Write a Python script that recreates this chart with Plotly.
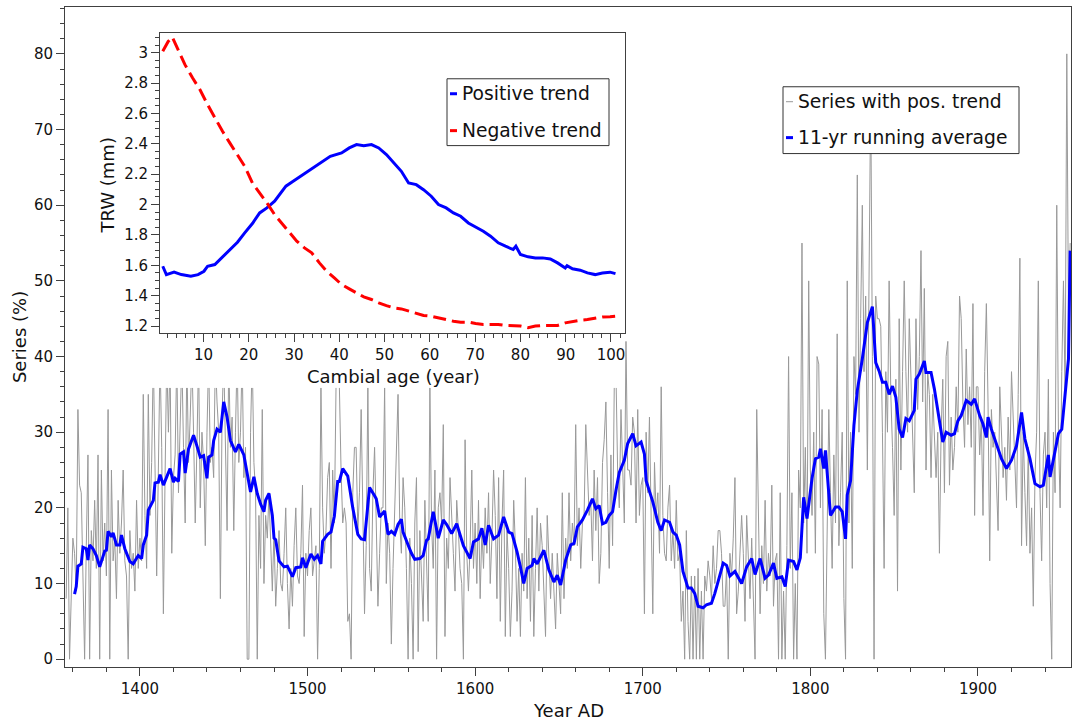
import plotly.graph_objects as go

W, H = 1072, 722

# ---------------- data ----------------
first_year = 1356
series_pos = [
    8, 20, 0, 10, 16, 14, 9, 33, 23, 22,
    12, 0, 15, 27, 0, 17, 13, 21, 12, 27,
    0, 25, 13, 18, 11, 33, 0, 25, 13, 16,
    8, 21, 14, 18, 25, 13, 11, 0, 17, 12,
    14, 9, 21, 12, 16, 13, 35, 19, 12, 35,
    19, 26, 40, 22, 11, 25, 40, 28, 6, 24,
    40, 30, 40, 14, 24, 27, 40, 22, 30, 40,
    28, 18, 40, 26, 32, 40, 30, 18, 28, 40,
    20, 30, 26, 15, 30, 40, 26, 28, 24, 40,
    34, 30, 8, 32, 40, 30, 17, 40, 28, 32,
    17, 30, 40, 26, 30, 40, 24, 28, 0, 0,
    30, 40, 26, 22, 0, 19, 12, 33, 10, 19,
    16, 22, 14, 9, 17, 7, 12, 17, 10, 9,
    14, 20, 10, 4, 12, 7, 15, 20, 11, 10,
    14, 23, 3, 14, 11, 17, 20, 11, 13, 15,
    0, 12, 36, 20, 14, 17, 24, 26, 12, 25,
    18, 36, 38, 36, 25, 18, 20, 18, 5, 6,
    0, 22, 28, 28, 17, 22, 33, 17, 6, 15,
    36, 12, 9, 22, 28, 18, 7, 14, 20, 20,
    36, 10, 18, 14, 2, 12, 20, 25, 35, 18,
    14, 24, 20, 12, 0, 16, 10, 0, 18, 24,
    1, 17, 12, 5, 21, 14, 5, 36, 18, 12,
    25, 0, 20, 22, 18, 31, 3, 16, 12, 24,
    18, 14, 9, 21, 17, 12, 10, 0, 29, 14,
    9, 15, 25, 12, 18, 10, 21, 8, 17, 12,
    20, 14, 22, 10, 16, 25, 19, 8, 24, 5,
    18, 25, 3, 17, 12, 3, 9, 21, 15, 5,
    12, 3, 14, 9, 24, 8, 16, 5, 19, 3,
    12, 20, 9, 18, 15, 10, 3, 19, 12, 8,
    14, 8, 4, 14, 9, 6, 22, 8, 16, 12,
    22, 13, 18, 15, 31, 15, 20, 12, 18, 19,
    31, 26, 19, 21, 13, 25, 17, 24, 10, 14,
    26, 29, 34, 22, 12, 27, 15, 36, 38, 25,
    20, 33, 26, 18, 42, 25, 25, 23, 32, 30,
    18, 33, 19, 23, 24, 6, 30, 22, 32, 17,
    6, 26, 19, 22, 14, 36, 19, 14, 13, 20,
    23, 13, 17, 12, 21, 13, 14, 5, 9, 0,
    17, 5, 0, 11, 0, 11, 0, 12, 0, 9,
    0, 11, 9, 13, 11, 8, 15, 10, 12, 17,
    17, 14, 7, 7, 12, 0, 14, 11, 16, 24,
    6, 9, 14, 19, 14, 5, 19, 12, 8, 16,
    9, 0, 33, 18, 6, 15, 10, 21, 9, 14,
    11, 23, 7, 13, 14, 0, 22, 0, 9, 0,
    15, 40, 12, 22, 0, 10, 0, 25, 20, 55,
    18, 28, 14, 50, 25, 19, 30, 14, 40, 39,
    20, 33, 6, 0, 21, 33, 22, 12, 27, 18,
    43, 15, 22, 30, 8, 0, 50, 18, 30, 12,
    40, 35, 64, 30, 45, 60, 38, 48, 25, 52,
    75, 40, 0, 48, 45, 45, 44, 30, 12, 38,
    30, 50, 35, 28, 19, 37, 9, 45, 25, 38,
    50, 38, 30, 45, 38, 30, 22, 45, 33, 40,
    54, 34, 49, 25, 38, 35, 24, 35, 29, 24,
    30, 14, 30, 37, 22, 40, 42, 23, 32, 25,
    28, 36, 30, 48, 45, 34, 28, 41, 31, 36,
    28, 47, 19, 36, 36, 27, 32, 19, 38, 47,
    34, 13, 33, 28, 30, 22, 17, 36, 29, 24,
    28, 21, 32, 25, 38, 31, 27, 20, 35, 53,
    15, 30, 22, 15, 28, 14, 20, 7, 24, 30,
    50, 22, 13, 27, 30, 20, 37, 10, 0, 30,
    22, 60, 30, 20, 38, 50, 35, 80, 45, 55,
]
series_years = list(range(first_year, first_year + len(series_pos)))

avg_years = [
    1361, 1362, 1363, 1365, 1366, 1368, 1369, 1370, 1372, 1374, 1376, 1377, 1379, 1380,
    1381, 1383, 1384, 1386, 1388, 1389, 1391, 1394, 1396, 1399, 1401, 1402, 1404, 1405,
    1408, 1409, 1411, 1412, 1414, 1416, 1418, 1420, 1421, 1423, 1424, 1426, 1427, 1429,
    1432, 1434, 1436, 1438, 1440, 1441, 1443, 1444, 1446, 1448, 1450, 1452, 1454, 1457,
    1459, 1462, 1464, 1466, 1468, 1470, 1472, 1474, 1475, 1477, 1479, 1480, 1481, 1483,
    1486, 1488, 1491, 1493, 1496, 1497, 1499, 1502, 1504, 1506, 1508, 1509, 1512, 1514,
    1516, 1518, 1519, 1521, 1524, 1527, 1530, 1532, 1534, 1537, 1540, 1541, 1543, 1546,
    1548, 1550, 1552, 1554, 1556, 1557, 1560, 1562, 1564, 1567, 1569, 1571, 1572, 1575,
    1578, 1581, 1583, 1586, 1589, 1592, 1593, 1597, 1599, 1602, 1604, 1606, 1608, 1611,
    1614, 1617, 1620, 1622, 1625, 1627, 1629, 1631, 1634, 1635, 1637, 1641, 1644, 1647,
    1649, 1651, 1654, 1657, 1659, 1661, 1664, 1667, 1670, 1672, 1674, 1676, 1678, 1680,
    1682, 1684, 1686, 1689, 1691, 1694, 1696, 1699, 1701, 1702, 1706, 1709, 1711, 1713,
    1716, 1718, 1720, 1722, 1724, 1727, 1729, 1731, 1733, 1736, 1738, 1741, 1743, 1748,
    1750, 1752, 1755, 1759, 1762, 1765, 1767, 1770, 1773, 1775, 1778, 1780, 1783, 1785,
    1787, 1790, 1792, 1794, 1796, 1798, 1801, 1803, 1805, 1806, 1808, 1809, 1812, 1815,
    1817, 1819, 1821, 1822, 1824, 1826, 1828, 1831, 1834, 1837, 1839, 1841, 1843, 1845,
    1847, 1849, 1851, 1853, 1855, 1857, 1859, 1862, 1863, 1865, 1868, 1869, 1872, 1874,
    1877, 1879, 1881, 1884, 1886, 1888, 1890, 1893, 1896, 1898, 1901, 1903, 1905, 1906,
    1908, 1910, 1912, 1914, 1917, 1920, 1923, 1926, 1928, 1931, 1934, 1937, 1939, 1942,
    1943, 1945, 1948, 1950, 1952, 1954, 1955,
]
avg_vals = [
    8.6, 9.6, 12.3, 12.6, 14.8, 14.6, 13.1, 15.1, 14.6, 13.7, 12.2, 12.9, 14.3, 14.4,
    16.9, 16.2, 16.7, 15.1, 15.1, 16.4, 14.6, 12.9, 12.6, 13.7, 13.3, 15.1, 16.4, 19.7,
    21.0, 23.3, 23.4, 24.4, 23.0, 24.1, 25.2, 23.4, 23.9, 23.5, 27.1, 27.4, 24.6, 27.8,
    29.6, 28.2, 26.7, 26.9, 23.9, 26.7, 27.0, 28.9, 30.4, 30.0, 34.0, 32.0, 28.9, 27.4,
    28.4, 27.0, 24.3, 22.1, 24.1, 21.9, 20.5, 19.5, 21.0, 21.9, 19.0, 16.0, 15.8, 13.0,
    12.2, 12.3, 10.9, 12.1, 12.2, 13.4, 12.1, 13.9, 13.2, 13.7, 12.6, 15.6, 16.5, 16.8,
    18.9, 23.5, 23.5, 25.2, 24.2, 20.0, 16.5, 15.9, 15.8, 22.7, 21.6, 21.2, 18.8, 19.6,
    16.5, 16.9, 16.5, 17.8, 18.5, 16.8, 15.1, 14.0, 13.2, 13.3, 13.7, 15.7, 15.9, 19.5,
    16.0, 18.4, 17.8, 16.6, 17.9, 15.7, 15.0, 13.3, 15.5, 15.9, 17.3, 15.1, 17.7, 15.9,
    16.4, 18.8, 16.8, 16.6, 14.2, 12.2, 10.0, 12.0, 12.4, 13.3, 12.6, 14.4, 11.8, 10.2,
    11.1, 9.8, 13.1, 15.1, 15.3, 17.5, 18.4, 19.7, 21.2, 19.9, 20.3, 17.9, 18.1, 19.0,
    19.5, 22.3, 24.7, 26.3, 28.5, 29.8, 28.2, 28.7, 27.1, 23.6, 20.8, 18.1, 17.0, 18.4,
    18.1, 16.8, 16.4, 15.1, 11.6, 9.4, 9.4, 8.7, 7.0, 6.8, 7.2, 7.4, 8.7, 12.7,
    12.4, 11.0, 11.6, 10.0, 12.2, 13.3, 11.2, 13.3, 10.7, 11.1, 12.7, 10.7, 10.9, 9.6,
    13.1, 12.9, 11.8, 13.4, 21.4, 18.6, 23.9, 26.5, 26.7, 27.8, 25.2, 27.6, 19.0, 20.1,
    20.1, 19.5, 15.9, 21.7, 23.6, 30.9, 35.5, 39.7, 44.5, 46.6, 39.2, 38.1, 36.6, 36.6,
    35.0, 36.1, 34.6, 30.4, 29.3, 31.8, 31.5, 32.9, 37.0, 37.7, 39.4, 37.9, 37.9, 35.7,
    31.3, 28.7, 30.0, 29.6, 29.8, 31.5, 32.2, 34.2, 33.7, 34.4, 32.2, 31.1, 29.3, 32.0,
    30.4, 29.1, 28.0, 26.5, 25.2, 26.3, 28.2, 32.6, 29.1, 26.5, 23.2, 22.8, 23.0, 27.0,
    24.1, 26.3, 29.8, 30.4, 35.3, 39.7, 54.0,
]

pos_age = [1.0, 1.8, 3.5, 5.1, 7.2, 8.8, 10.1, 10.9, 12.5, 14.2, 15.8, 17.5, 19.1, 20.8,
           22.4, 24.0, 25.7, 26.9, 28.2, 29.8, 31.5, 33.1, 34.7, 36.4, 38.0, 40.5, 42.2,
           43.8, 45.4, 47.1, 48.7, 50.4, 52.0, 53.7, 55.3, 57.0, 58.6, 60.3, 61.9, 63.6,
           65.2, 66.8, 68.5, 70.1, 71.8, 73.4, 75.1, 76.7, 78.4, 79.0, 80.0, 81.7, 83.3,
           84.9, 86.6, 88.2, 89.9, 90.3, 91.5, 93.2, 94.8, 96.5, 98.1, 99.8, 101.0]
pos_trw = [1.594, 1.539, 1.555, 1.539, 1.528, 1.539, 1.561, 1.594, 1.605, 1.656, 1.704,
           1.752, 1.814, 1.875, 1.945, 1.978, 2.022, 2.066, 2.121, 2.153, 2.186, 2.219,
           2.252, 2.285, 2.318, 2.340, 2.373, 2.395, 2.388, 2.395, 2.373, 2.329, 2.274,
           2.219, 2.142, 2.131, 2.098, 2.055, 2.000, 1.978, 1.945, 1.923, 1.879, 1.853,
           1.824, 1.792, 1.748, 1.726, 1.704, 1.726, 1.671, 1.656, 1.649, 1.649, 1.642,
           1.616, 1.583, 1.598, 1.577, 1.568, 1.550, 1.539, 1.550, 1.555, 1.545]

neg_age = [1.0, 2.2, 3.1, 4.3, 5.9, 7.6, 9.2, 10.9, 12.5, 14.2, 15.8, 17.5, 19.1, 20.8,
           22.4, 24.0, 25.7, 27.3, 29.0, 30.6, 32.3, 33.9, 35.6, 37.2, 38.9, 40.5, 42.2,
           43.8, 45.4, 47.1, 48.7, 50.4, 52.0, 53.7, 55.3, 57.0, 58.6, 60.3, 61.9, 63.6,
           65.2, 66.8, 68.5, 70.1, 71.8, 73.4, 75.1, 76.7, 78.4, 80.0, 81.7, 83.3, 84.9,
           86.6, 88.2, 89.9, 91.5, 93.2, 94.8, 96.5, 98.1, 99.8, 101.0]
neg_trw = [3.009, 3.074, 3.103, 3.020, 2.921, 2.833, 2.757, 2.658, 2.570, 2.482, 2.406,
           2.329, 2.252, 2.142, 2.077, 2.011, 1.934, 1.879, 1.814, 1.759, 1.715, 1.682,
           1.616, 1.561, 1.517, 1.474, 1.445, 1.419, 1.392, 1.375, 1.353, 1.335, 1.320,
           1.313, 1.298, 1.287, 1.270, 1.265, 1.254, 1.243, 1.232, 1.226, 1.226, 1.217,
           1.211, 1.211, 1.211, 1.204, 1.204, 1.200, 1.189, 1.200, 1.204, 1.204, 1.204,
           1.221, 1.232, 1.239, 1.243, 1.254, 1.260, 1.262, 1.265]

main_legend = ["Series with pos. trend", "11-yr running average"]
inset_legend = ["Positive trend", "Negative trend"]

# ---------------- styling ----------------
FONT = "DejaVu Sans"
TXT = "#111111"
AX = "#404040"
GRAY = "#999999"
BLUE = "#0000ff"
RED = "#ff0000"


def px(x):
    return x / W


def py(y):
    return 1 - y / H


fig = go.Figure()

fig.add_trace(go.Scatter(x=series_years, y=series_pos, mode="lines",
                         line=dict(color=GRAY, width=1), name=main_legend[0],
                         showlegend=False, xaxis="x", yaxis="y"))
fig.add_trace(go.Scatter(x=avg_years, y=avg_vals, mode="lines",
                         line=dict(color=BLUE, width=3), name=main_legend[1],
                         showlegend=False, xaxis="x", yaxis="y"))
# empty trace creating the white blocker subplot behind the inset
fig.add_trace(go.Scatter(x=[], y=[], xaxis="x2", yaxis="y2", showlegend=False,
                         hoverinfo="skip"))
fig.add_trace(go.Scatter(x=pos_age, y=pos_trw, mode="lines",
                         line=dict(color=BLUE, width=3), name=inset_legend[0],
                         showlegend=False, xaxis="x3", yaxis="y3"))
fig.add_trace(go.Scatter(x=neg_age, y=neg_trw, mode="lines",
                         line=dict(color=RED, width=3, dash="13px,6px"),
                         name=inset_legend[1], showlegend=False,
                         xaxis="x3", yaxis="y3"))

axis_common = dict(showline=True, linecolor=AX, linewidth=1, mirror=True,
                   ticks="outside", tickcolor=AX, ticklen=8, tickwidth=1,
                   showgrid=False, zeroline=False,
                   tickfont=dict(family=FONT, size=15, color=TXT))

fig.update_layout(
    width=W, height=H,
    margin=dict(l=0, r=0, t=0, b=0),
    paper_bgcolor="white", plot_bgcolor="white",
    showlegend=False,
    xaxis=dict(domain=[px(65), px(1071)], range=[1355.3, 1955.5], anchor="y",
               tick0=1400, dtick=100,
               minor=dict(dtick=20, tick0=1400, ticks="outside", ticklen=4,
                          tickcolor=AX),
               **axis_common),
    yaxis=dict(domain=[py(669), py(7)], range=[-1.05, 86.2], anchor="x",
               tick0=0, dtick=10,
               minor=dict(dtick=2, tick0=0, ticks="outside", ticklen=4,
                          tickcolor=AX),
               **axis_common),
    xaxis2=dict(domain=[px(92), px(622)], range=[0, 1], anchor="y2",
                visible=False, fixedrange=True),
    yaxis2=dict(domain=[py(389), py(24)], range=[0, 1], anchor="x2",
                visible=False, fixedrange=True),
    xaxis3=dict(domain=[px(160), px(625)], range=[0.39, 103.1], anchor="y3",
                tick0=0, dtick=10,
                minor=dict(dtick=2, tick0=0, ticks="outside", ticklen=4,
                           tickcolor=AX),
                **axis_common),
    yaxis3=dict(domain=[py(334), py(33)], range=[1.154, 3.13], anchor="x3",
                tick0=1.2, dtick=0.2,
                minor=dict(dtick=0.05, tick0=1.2, ticks="outside", ticklen=4,
                           tickcolor=AX),
                **axis_common),
)

title_font = dict(family=FONT, size=18, color=TXT)
ann = [
    dict(text="Year AD", x=px(568), y=py(712)),
    dict(text="Series (%)", x=px(19), y=py(338), textangle=-90),
    dict(text="TRW (mm)", x=px(107), y=py(186), textangle=-90),
    dict(text="Cambial age (year)", x=px(393), y=py(378)),
]
for a in ann:
    fig.add_annotation(xref="paper", yref="paper", showarrow=False,
                       xanchor="center", yanchor="middle", font=title_font, **a)

# legend boxes (drawn manually to match the compact glyphs)
shapes = []


def legend_box(x0, y0, x1, y1, rows):
    shapes.append(dict(type="rect", xref="paper", yref="paper",
                       x0=px(x0), x1=px(x1), y0=py(y1), y1=py(y0),
                       fillcolor="white", line=dict(color="#333333", width=1),
                       layer="above"))
    for (label, color, width, ycen) in rows:
        shapes.append(dict(type="line", xref="paper", yref="paper",
                           x0=px(x0 + 3), x1=px(x0 + 10), y0=py(ycen), y1=py(ycen),
                           line=dict(color=color, width=width), layer="above"))
        fig.add_annotation(xref="paper", yref="paper", showarrow=False,
                           xanchor="left", yanchor="middle",
                           x=px(x0 + 13), y=py(ycen), text=label,
                           font=dict(family=FONT, size=18.7, color=TXT))


legend_box(783, 87, 1019, 154, [(main_legend[0], GRAY, 1, 102),
                                (main_legend[1], BLUE, 3, 138)])
legend_box(447, 79, 609, 146, [(inset_legend[0], BLUE, 3, 94),
                               (inset_legend[1], RED, 3, 131)])
fig.update_layout(shapes=shapes)

fig.write_html("out.html")
